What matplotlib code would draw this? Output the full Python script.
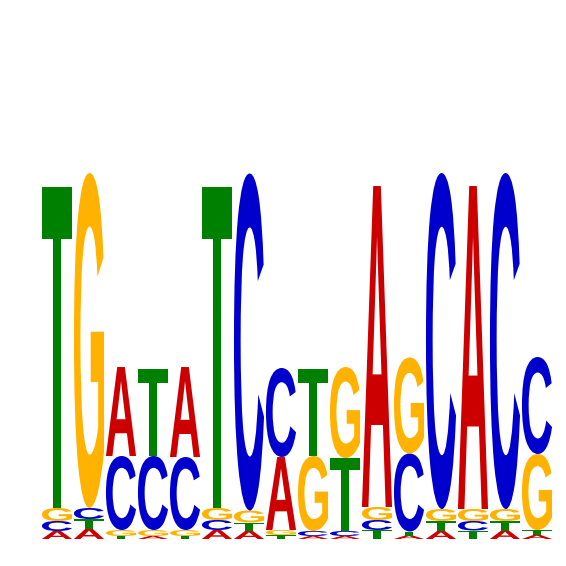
import matplotlib
matplotlib.use("Agg")
import matplotlib.pyplot as plt
from matplotlib.textpath import TextPath
from matplotlib.patches import PathPatch
from matplotlib.font_manager import FontProperties
from matplotlib.transforms import Affine2D

# information content (bits) of each base at each of the 16 positions
bases = ["A", "C", "G", "T"]
height_A = [0.032, 0.040, 0.356, 0.012, 0.360, 0.036, 0.032, 0.292,
            0.012, 0.012, 1.284, 0.014, 0.032, 1.292, 0.034, 0.016]
height_C = [0.040, 0.044, 0.296, 0.296, 0.292, 0.040, 1.348, 0.356,
            0.020, 0.020, 0.040, 0.312, 1.344, 0.038, 1.344, 0.388]
height_G = [0.052, 1.340, 0.024, 0.024, 0.024, 0.048, 0.048, 0.020,
            0.300, 0.364, 0.052, 0.384, 0.048, 0.048, 0.048, 0.304]
height_T = [1.284, 0.040, 0.012, 0.348, 0.012, 1.284, 0.034, 0.016,
            0.348, 0.292, 0.036, 0.016, 0.040, 0.034, 0.038, 0.020]

colors = {"A": "#CC0000", "C": "#0000CC", "G": "#FFB300", "T": "#008000"}

fp = FontProperties(family="Liberation Sans", weight="bold")


def draw_letter(ax, letter, x, y, w, h, color):
    # stretch the glyph outline so it fills the box exactly
    tp = TextPath((0, 0), letter, size=1, prop=fp)
    ext = tp.get_extents()
    t = (Affine2D().translate(-ext.x0, -ext.y0)
         .scale(w / ext.width, h / ext.height)
         .translate(x, y))
    ax.add_patch(PathPatch(t.transform_path(tp), facecolor=color,
                           edgecolor="none"))


fig = plt.figure(figsize=(5.66, 5.66), dpi=100)
ax = fig.add_axes([41 / 566, 27 / 566, 512 / 566, 500 / 566])

columns = list(zip(height_A, height_C, height_G, height_T))
for i, col in enumerate(columns):
    # smallest letter at the bottom, largest on top
    order = sorted(range(4), key=lambda k: col[k])
    y = 0.0
    for k in order:
        h = col[k]
        if h > 0:
            draw_letter(ax, bases[k], i + 0.03, y, 0.94, h, colors[bases[k]])
        y += h

ax.set_xlim(0, len(columns))
ax.set_ylim(0, 2)
ax.axis("off")

fig.savefig("out.png", dpi=100)
